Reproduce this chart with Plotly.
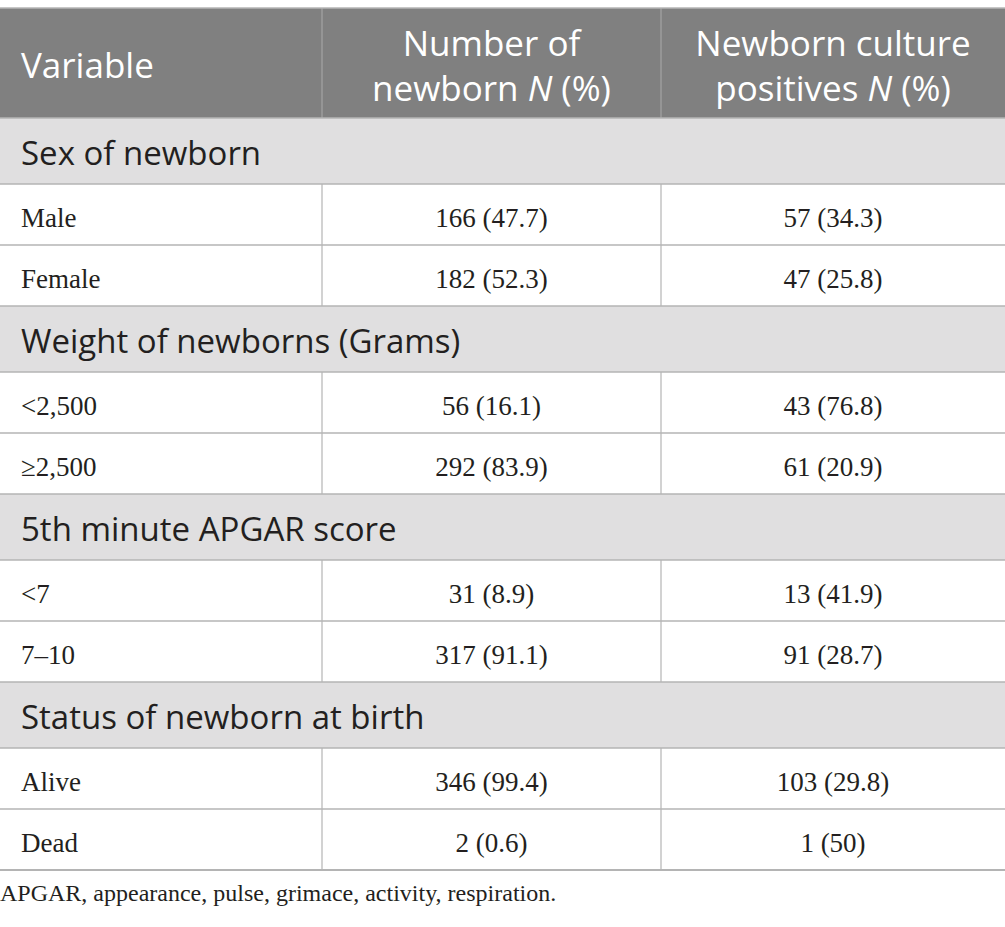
import plotly.graph_objects as go

# table content
header = ["Variable", "Number of<br>newborn <i>N</i> (%)", "Newborn culture<br>positives <i>N</i> (%)"]
sections = ["Sex of newborn", "Weight of newborns (Grams)", "5th minute APGAR score", "Status of newborn at birth"]
levels = [["Male", "Female"], ["&lt;2,500", "≥2,500"], ["&lt;7", "7–10"], ["Alive", "Dead"]]
n_newborn = [166, 182, 56, 292, 31, 317, 346, 2]
pct_newborn = [47.7, 52.3, 16.1, 83.9, 8.9, 91.1, 99.4, 0.6]
n_positive = [57, 47, 43, 61, 13, 91, 103, 1]
pct_positive = [34.3, 25.8, 76.8, 20.9, 41.9, 28.7, 29.8, 50]
footnote = "APGAR, appearance, pulse, grimace, activity, respiration."

# geometry (pixels, y downwards)
W, H = 1005, 927
col_edges = [0, 322, 661, 1005]
top = 8
header_h = 110
section_h = 66
row_h = 61
pad = 21
text_shift = 5.5  # plotly's "middle" sits a little high for these fonts

HEADER_BG = "#808080"
SECTION_BG = "#e0dfe0"
LINE = "#b4b4b4"
TEXT = "#231f20"
SANS = "Open Sans"
SERIF = "Liberation Serif"

fig = go.Figure()
shapes = []

# header
shapes.append(dict(type="rect", x0=col_edges[0], x1=col_edges[-1], y0=top, y1=top + header_h,
                   fillcolor=HEADER_BG, line_width=0, layer="below"))
for x in col_edges[1:-1]:
    shapes.append(dict(type="line", x0=x, x1=x, y0=top, y1=top + header_h,
                       line=dict(color="#a3a3a3", width=1.2)))
shapes.append(dict(type="line", x0=0, x1=W, y0=top, y1=top, line=dict(color=LINE, width=1.5)))

hy = top + header_h / 2 + text_shift + 1
col_mid = [(col_edges[i] + col_edges[i + 1]) / 2 for i in range(1, 3)]
fig.add_trace(go.Scatter(x=[pad], y=[hy], mode="text", text=header[:1], textposition="middle right",
                         textfont=dict(family=SANS, size=35, color="white"), hoverinfo="skip"))
fig.add_trace(go.Scatter(x=col_mid, y=[hy, hy], mode="text", text=header[1:], textposition="middle center",
                         textfont=dict(family=SANS, size=35, color="white"), hoverinfo="skip"))

# body
y = top + header_h
sec_x, sec_y, sec_t = [], [], []
lab_x, lab_y, lab_t = [], [], []
val_x, val_y, val_t = [], [], []
k = 0
for s, labs in zip(sections, levels):
    shapes.append(dict(type="rect", x0=0, x1=W, y0=y, y1=y + section_h,
                       fillcolor=SECTION_BG, line_width=0, layer="below"))
    shapes.append(dict(type="line", x0=0, x1=W, y0=y, y1=y, line=dict(color=LINE, width=1.5)))
    sec_x.append(pad)
    sec_y.append(y + section_h / 2 + text_shift)
    sec_t.append(s)
    y += section_h
    for lab in labs:
        shapes.append(dict(type="line", x0=0, x1=W, y0=y, y1=y, line=dict(color=LINE, width=1.5)))
        for x in col_edges[1:-1]:
            shapes.append(dict(type="line", x0=x, x1=x, y0=y, y1=y + row_h,
                               line=dict(color=LINE, width=1.2)))
        cy = y + row_h / 2 + text_shift
        lab_x.append(pad)
        lab_y.append(cy)
        lab_t.append(lab)
        val_x += col_mid
        val_y += [cy, cy]
        val_t += [f"{n_newborn[k]} ({pct_newborn[k]:g})", f"{n_positive[k]} ({pct_positive[k]:g})"]
        k += 1
        y += row_h
shapes.append(dict(type="line", x0=0, x1=W, y0=y, y1=y, line=dict(color=LINE, width=2)))

fig.add_trace(go.Scatter(x=sec_x, y=sec_y, mode="text", text=sec_t, textposition="middle right",
                         textfont=dict(family=SANS, size=33, color=TEXT), hoverinfo="skip"))
fig.add_trace(go.Scatter(x=lab_x, y=lab_y, mode="text", text=lab_t, textposition="middle right",
                         textfont=dict(family=SERIF, size=27, color=TEXT), hoverinfo="skip"))
fig.add_trace(go.Scatter(x=val_x, y=val_y, mode="text", text=val_t, textposition="middle center",
                         textfont=dict(family=SERIF, size=27, color=TEXT), hoverinfo="skip"))

fig.add_trace(go.Scatter(x=[0], y=[y + 25], mode="text", text=[footnote], textposition="middle right",
                         textfont=dict(family=SERIF, size=24, color=TEXT), hoverinfo="skip"))

fig.update_layout(
    width=W, height=H,
    margin=dict(l=0, r=0, t=0, b=0),
    paper_bgcolor="white", plot_bgcolor="white",
    showlegend=False,
    shapes=shapes,
    xaxis=dict(range=[0, W], visible=False, fixedrange=True),
    yaxis=dict(range=[H, 0], visible=False, fixedrange=True),
)

fig.write_html("out.html", config={"displayModeBar": False},
               post_script="document.body.style.margin='0';")
